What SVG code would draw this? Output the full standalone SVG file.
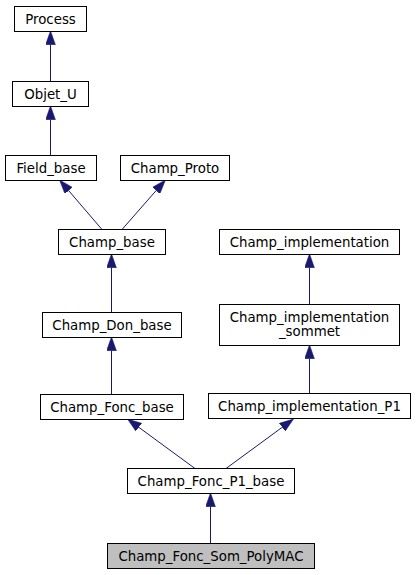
<svg xmlns="http://www.w3.org/2000/svg" width="416" height="575" viewBox="0 0 416 575">
<style>
.node rect{fill:#ffffff;stroke:#000000;stroke-width:1}
.node.cur rect{fill:#bfbfbf}
.node text{font-family:"DejaVu Sans","Liberation Sans",sans-serif;font-size:13.33px;text-anchor:middle;fill:#000000}
.edges path{fill:none;stroke:#191970;stroke-width:1}
</style>
<defs>
<marker id="ah" markerUnits="userSpaceOnUse" markerWidth="14" markerHeight="10" refX="0" refY="4.67" orient="auto" viewBox="0 0 13.3 9.34">
<polygon points="0,0 13.3,4.67 0,9.34" fill="#191970" stroke="#191970" stroke-width="0.5"/>
</marker>
</defs>
<rect width="416" height="575" fill="#ffffff"/>
<g class="edges">
<path d="M50.5,81.5 L50.5,44.8" marker-end="url(#ah)"/>
<path d="M50.5,155.5 L50.5,119.8" marker-end="url(#ah)"/>
<path d="M102,229.5 L68.66,190.6" marker-end="url(#ah)"/>
<path d="M122,229.5 L156.2,190.5" marker-end="url(#ah)"/>
<path d="M111.5,312.5 L111.5,267.8" marker-end="url(#ah)"/>
<path d="M111.5,394.5 L111.5,350.8" marker-end="url(#ah)"/>
<path d="M309.5,304.5 L309.5,267.8" marker-end="url(#ah)"/>
<path d="M309.5,393.5 L309.5,358.8" marker-end="url(#ah)"/>
<path d="M195,468.5 L138.8,427.3" marker-end="url(#ah)"/>
<path d="M226,468.5 L282.2,427.3" marker-end="url(#ah)"/>
<path d="M210.5,543.5 L210.5,506.8" marker-end="url(#ah)"/>
</g>
<g id="Process" class="node"><rect x="14.5" y="6.5" width="72" height="25"/><text x="50.5" y="23.5">Process</text></g>
<g id="Objet_U" class="node"><rect x="12.5" y="81.5" width="76" height="25"/><text x="50.5" y="98.5">Objet_U</text></g>
<g id="Field_base" class="node"><rect x="5.5" y="155.5" width="91" height="25"/><text x="51" y="172.5">Field_base</text></g>
<g id="Champ_Proto" class="node"><rect x="120.5" y="155.5" width="109" height="25"/><text x="175" y="172.5">Champ_Proto</text></g>
<g id="Champ_base" class="node"><rect x="58.5" y="229.5" width="107" height="25"/><text x="112" y="246.5">Champ_base</text></g>
<g id="Champ_implementation" class="node"><rect x="219.5" y="229.5" width="180" height="25"/><text x="309.5" y="246.5">Champ_implementation</text></g>
<g id="Champ_Don_base" class="node"><rect x="42.5" y="312.5" width="139" height="25"/><text x="112" y="329.5">Champ_Don_base</text></g>
<g id="Champ_implementation_sommet" class="node"><rect x="219.5" y="304.5" width="180" height="41"/><text x="309.5" y="322">Champ_implementation</text><text x="309.5" y="336">_sommet</text></g>
<g id="Champ_Fonc_base" class="node"><rect x="40.5" y="394.5" width="143" height="25"/><text x="112" y="411.5">Champ_Fonc_base</text></g>
<g id="Champ_implementation_P1" class="node"><rect x="208.5" y="393.5" width="202" height="25"/><text x="309.5" y="410.5">Champ_implementation_P1</text></g>
<g id="Champ_Fonc_P1_base" class="node"><rect x="127.5" y="468.5" width="167" height="25"/><text x="211" y="485.5">Champ_Fonc_P1_base</text></g>
<g id="Champ_Fonc_Som_PolyMAC" class="node cur"><rect x="107.5" y="543.5" width="207" height="25"/><text x="211" y="560.5">Champ_Fonc_Som_PolyMAC</text></g>
</svg>
